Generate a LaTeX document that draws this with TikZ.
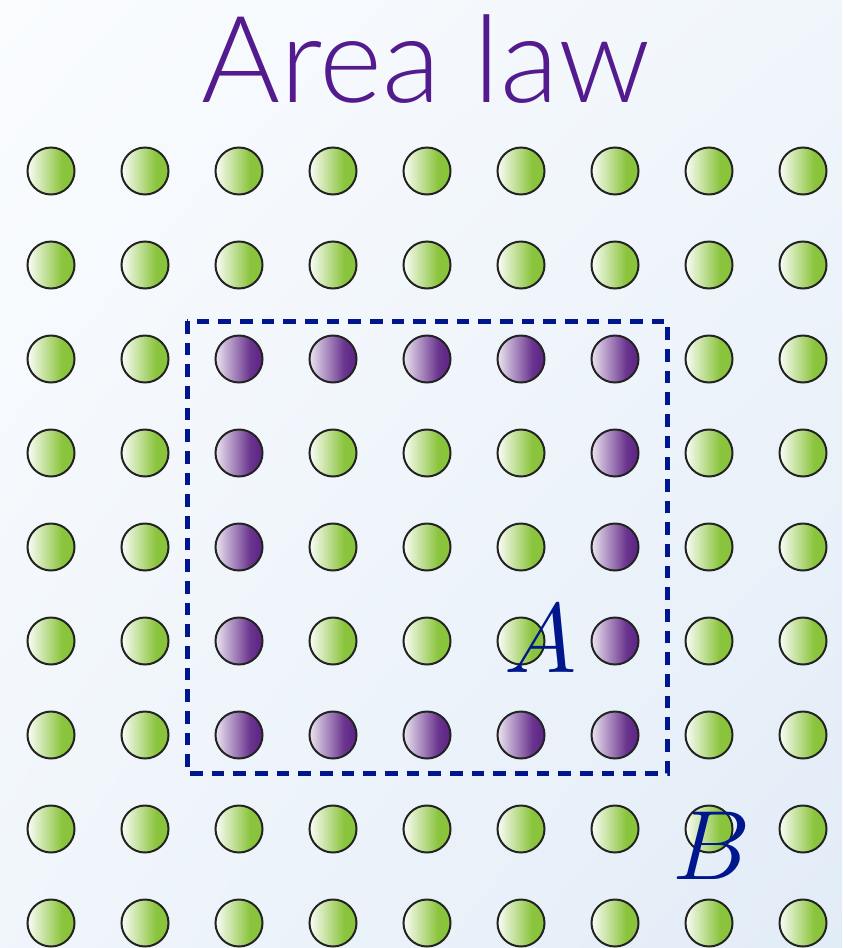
\documentclass[tikz,border=0pt]{standalone}
\usepackage{fontspec}
\newfontfamily\titlefont{Lato Light}
\usetikzlibrary{positioning, shadings}
\definecolor{siteGreen}{RGB}{138,196,60}
\definecolor{sitePurple}{RGB}{92,34,132}
\definecolor{titlePurple}{RGB}{84,27,143}
\definecolor{cutBlue}{RGB}{0,22,140}
\definecolor{bgLight}{RGB}{250,252,254}
\definecolor{bgBlue}{RGB}{226,236,247}
\definecolor{rimGray}{RGB}{35,35,35}
\pgfdeclarehorizontalshading{greenFade}{100bp}{color(0bp)=(white);
  color(25bp)=(white!96!siteGreen); color(45bp)=(siteGreen!55!white);
  color(62bp)=(siteGreen); color(100bp)=(siteGreen)}
\pgfdeclarehorizontalshading{purpleFade}{100bp}{color(0bp)=(white);
  color(25bp)=(white!88!sitePurple); color(45bp)=(sitePurple!55!white);
  color(62bp)=(sitePurple!92!white); color(75bp)=(sitePurple);
  color(100bp)=(sitePurple)}
\tikzset{
  site/.style={circle, minimum size=14.1mm, inner sep=0pt,
    draw=rimGray, line width=0.6mm},
  greenS/.style={site, shading=greenFade},
  purpleS/.style={site, shading=purpleFade},
  cut/.style={draw=cutBlue, line width=1.5mm, dash pattern=on 3.8mm off 2.7mm},
  region/.style={inner sep=0pt, anchor=base, text=cutBlue,
    font=\Huge, scale=3.38},
  title/.style={inner sep=0pt, anchor=base, text=titlePurple,
    font=\titlefont\fontsize{103}{103}\selectfont},
}
\begin{document}
\begin{tikzpicture}[x=0.3mm, y=-0.3mm]

%% -- background ---------------------------------------------
\shade[upper left=bgLight, upper right=bgLight!60!bgBlue,
       lower left=bgLight!60!bgBlue, lower right=bgBlue]
  (0,0) rectangle (842,948);
\useasboundingbox (0,0) rectangle (842,948);

\node[title] (head) at (426,102) {Area law};

%% -- lattice ------------------------------------------------
\foreach \i in {1,...,9}
  \foreach \j in {1,...,9} {
    \pgfmathsetmacro{\px}{51+94*(\i-1)}
    \pgfmathsetmacro{\py}{171+94*(\j-1)}
    \ifnum\i>2 \ifnum\i<8 \ifnum\j>2 \ifnum\j<8
      \ifnum\i=3 \def\kind{purpleS}\else
      \ifnum\i=7 \def\kind{purpleS}\else
      \ifnum\j=3 \def\kind{purpleS}\else
      \ifnum\j=7 \def\kind{purpleS}\else
        \def\kind{greenS}\fi\fi\fi\fi
    \else\def\kind{greenS}\fi
    \else\def\kind{greenS}\fi
    \else\def\kind{greenS}\fi
    \else\def\kind{greenS}\fi
    \node[\kind] (s-\i-\j) at (\px,\py) {};
  }

%% -- cut around A -------------------------------------------
\coordinate (cutNW) at (187,321);
\coordinate (cutSE) at (667,773);
\draw[cut] (cutNW) rectangle (cutSE);

\node[region] (labA) at (541,672) {$A$};
\node[region] (labB) at (712,879) {$B$};

\end{tikzpicture}
\end{document}
